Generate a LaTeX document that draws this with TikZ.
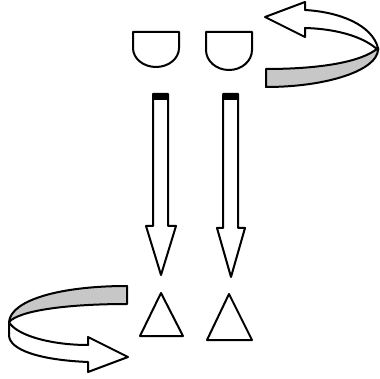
\documentclass[tikz,border=0pt]{standalone}
\begin{document}
\begin{tikzpicture}[x=1pt,y=-1pt,line join=round,
  outl/.style={draw=black,line width=2pt,fill=white},
  grayband/.style={draw=black,line width=2pt,fill=black!22}]
\useasboundingbox (0,0) rectangle (380,379);
% D shapes
\draw[outl] (133,32) -- (179,32) -- (179,48) arc[start angle=0,end angle=180,x radius=23,y radius=19] -- cycle;
\draw[outl] (206,32) -- (252,32) -- (252,50) arc[start angle=0,end angle=180,x radius=23,y radius=20] -- cycle;
% down arrows
\draw[outl] (153,94) -- (168,94) -- (168,226) -- (176,226) -- (161,275) -- (146,226) -- (153,226) -- cycle;
\fill[black] (153,93) rectangle (168,100);
\draw[outl] (223,94) -- (238,94) -- (238,228) -- (245,228) -- (231,277) -- (217,228) -- (223,228) -- cycle;
\fill[black] (223,93) rectangle (238,100);
% triangles
\draw[outl] (161,293) -- (183,336) -- (140,336) -- cycle;
\draw[outl] (229,294) -- (252,340) -- (207,340) -- cycle;
% top rotation arrow
\draw[grayband] (266,69) -- (266,87) .. controls (328,87) and (377,70) .. (378,50)
  -- (378,48) .. controls (362,62) and (320,69) .. (266,69) -- cycle;
\draw[outl] (378,48) .. controls (372,25) and (340,12) .. (305,10) -- (305,2) -- (265,17)
  -- (305,37) -- (305,28) .. controls (340,29) and (365,38) .. (378,50) -- cycle;
% bottom rotation arrow
\draw[grayband] (127,286) -- (127,304) .. controls (70,304) and (20,310) .. (9,322)
  .. controls (11,300) and (60,286) .. (127,286) -- cycle;
\draw[outl] (9,322) .. controls (16,335) and (50,345) .. (88,345) -- (88,337) -- (128,357)
  -- (88,372) -- (88,362) .. controls (40,360) and (9,350) .. (9,335) -- cycle;
\end{tikzpicture}
\end{document}
